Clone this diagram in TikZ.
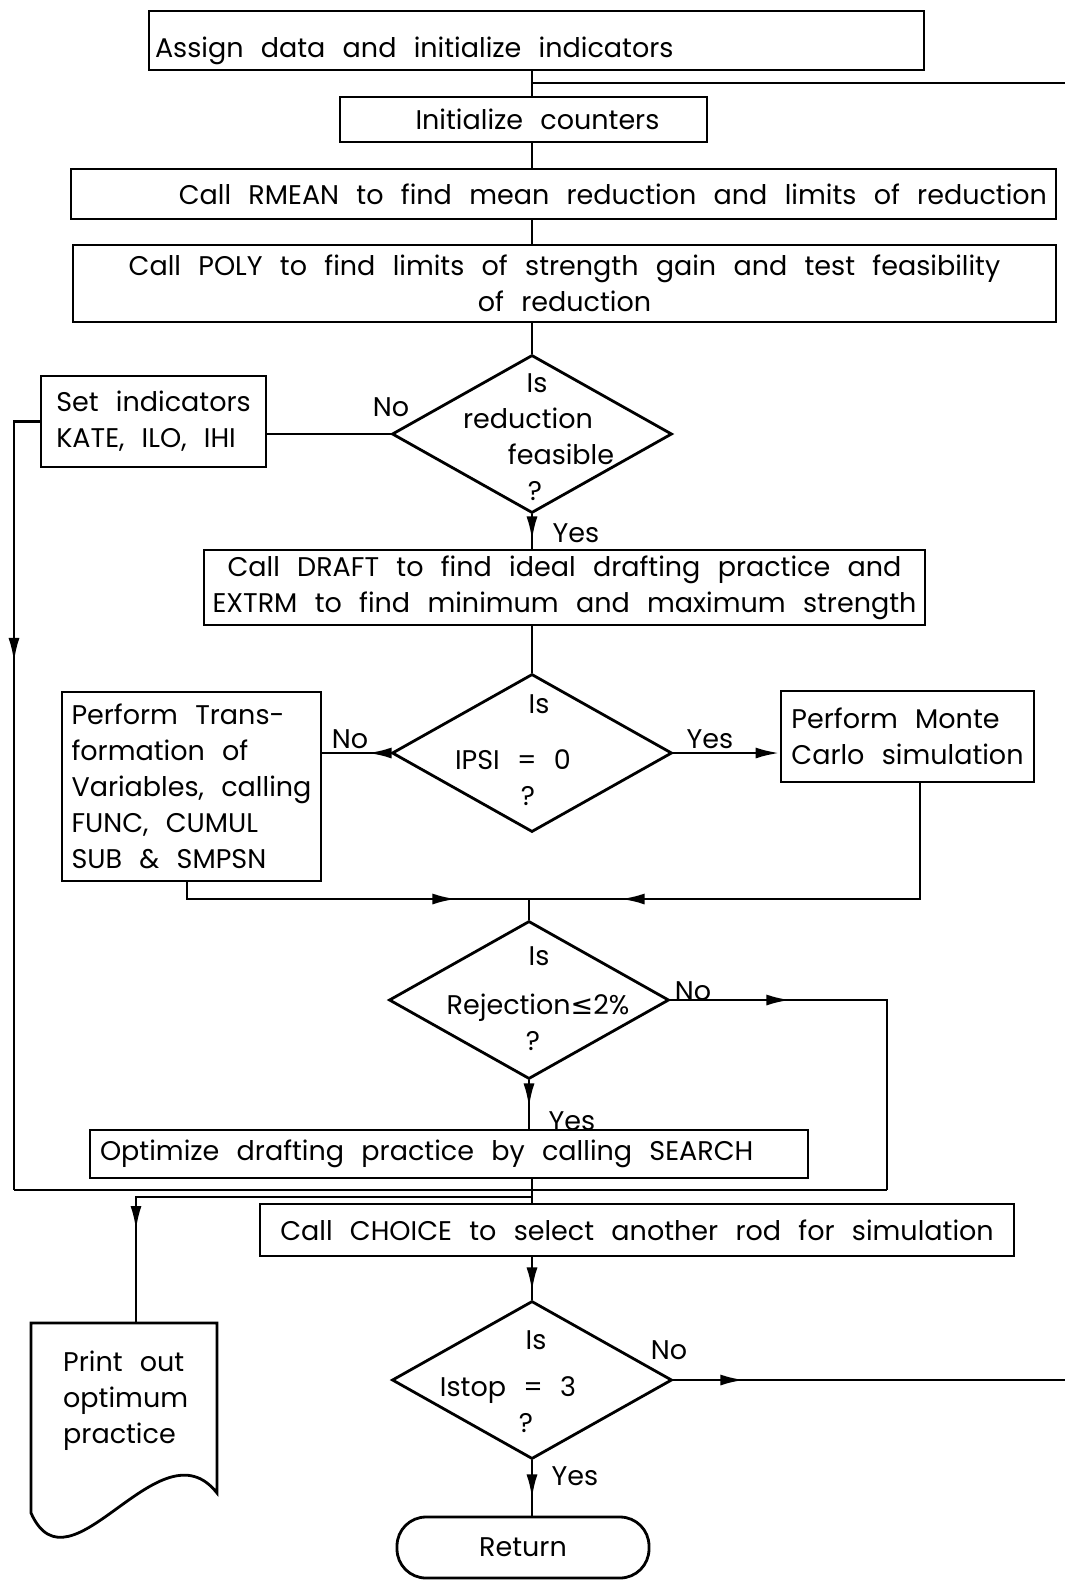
\documentclass[tikz,border=0pt]{standalone}
\usepackage{fontspec}
\setmainfont{Poppins}[WordSpace=2.4]
\newfontfamily\symfont{DejaVu Sans}
\usetikzlibrary{shapes.geometric,arrows.meta,decorations.markings,calc}
\newcommand{\fsp}{\spaceskip=0pt\xspaceskip=0pt\relax}
\begin{document}
\begin{tikzpicture}[x=1pt,y=-1pt,
  every node/.style={font=\fontsize{27}{36}\selectfont},
  base/.style={draw, line width=2.8pt, inner sep=0pt},
  box/.style={base, rectangle},
  dia/.style={base, diamond, minimum width=280pt, minimum height=158pt},
  dtext/.style={align=center, inner sep=0pt},
  lbl/.style={inner sep=0pt},
  conn/.style={line width=2.8pt},
  tipat/.style={postaction={decorate}, decoration={markings, mark=at position #1 with {\arrow{Latex[length=24pt,width=11pt]}}}},
  endtip/.style={-{Latex[length=24pt,width=11pt]}},
]
\useasboundingbox (0,0) rectangle (1065,1580);
\coordinate (col) at (532,0);

% boxes
\node[box, minimum width=775pt, minimum height=59pt, text width=763pt, text height=34pt, text depth=0pt, align=left] (b1) at (536.5,40.5) {\mbox{\fsp Assign data and initialize indicators}};
\node[box, minimum width=367pt, minimum height=45pt, align=center] (b2) at (523.5,119.5) {\hspace*{28pt}Initialize counters};
\node[box, minimum width=985pt, minimum height=50pt, text width=967pt, align=right] (b3) at (563.5,194) {\mbox{\fsp Call RMEAN to find mean reduction and limits of reduction}};
\node[box, minimum width=983pt, minimum height=77pt, align=center] (b4) at (564.5,283.5) {Call POLY to find limits of strength gain and test feasibility\\of reduction};
\node[dia] (d1) at (532,434) {};
\node[dtext] (d1t) at (535,437) {\hspace*{4pt}Is\\\hspace*{-14pt}reduction\\\hspace*{52pt}feasible\\?};
\node[box, minimum width=225pt, minimum height=91pt, align=left] (s1) at (153.5,421.5) {Set indicators\\KATE, ILO, IHI};
\node[box, minimum width=721pt, minimum height=75pt, align=center] (b5) at (564.5,587.5) {Call DRAFT to find ideal drafting practice and\\EXTRM to find minimum and maximum strength};
\node[dia] (d2) at (532,753) {};
\node[dtext] (d2t) at (528,750) {\hspace*{22pt}Is\\[20pt]\hspace*{-30pt}IPSI = 0\\?};
\node[box, minimum width=259pt, minimum height=189pt, align=left] (t1) at (191.5,786.5) {Perform Trans-\\formation of\\Variables, calling\\FUNC, CUMUL\\SUB \& SMPSN};
\node[box, minimum width=253pt, minimum height=91pt, align=left] (m1) at (907.5,736.5) {Perform Monte\\Carlo simulation};
\node[dia] (d3) at (529,1000) {};
\node[dtext] (d3t) at (533,999) {\hspace*{12pt}Is\\[13pt]\hspace*{10pt}Rejection{\symfont ≤}2\%\\?};
\node[box, minimum width=718pt, minimum height=48pt, text width=698pt, align=left] (opt) at (449,1154) {\mbox{\fsp Optimize drafting practice by calling SEARCH}};
\node[box, minimum width=754pt, minimum height=52pt, align=center] (c1) at (637,1230) {Call CHOICE to select another rod for simulation};
\node[dia] (d4) at (532,1380) {};
\node[dtext] (d4t) at (526,1382) {\hspace*{20pt}Is\\[11pt]\hspace*{-36pt}Istop = 3\\?};
\node[box, rounded corners=29pt, minimum width=252pt, minimum height=61pt] (ret) at (523,1547.5) {Return};
\node[lbl, align=left, anchor=west] (doc) at (63,1401) {Print out\\optimum\\practice};
\draw[conn] (31,1513) -- (31,1323) -- (217,1323) -- (217,1493) .. controls (160,1420) and (70,1600) .. (31,1513) -- cycle;

% labels
\node[lbl] (no1) at (391,407) {No};
\node[lbl] (yes1) at (576,533) {Yes};
\node[lbl] (no2) at (350,739) {No};
\node[lbl] (yes2) at (710,739) {Yes};
\node[lbl] (no3) at (693,991) {No};
\node[lbl] (yes3) at (572,1121) {Yes};
\node[lbl] (no4) at (669,1350) {No};
\node[lbl] (yes4) at (575,1476) {Yes};

% coordinates
\coordinate (j0) at (532,83);
\coordinate (topR) at (1065,83);
\coordinate (cL) at (14,1190);
\coordinate (cR) at (887,1190);
\coordinate (j1) at (529,899);
\coordinate (j2) at (532,1197);
\coordinate (doctop) at (136,1323);
\coordinate (botR) at (1065,1380);

% connectors
\draw[conn] (b1.south -| col) -- (b2.north -| col);
\draw[conn] (j0) -- (topR);
\draw[conn] (b2.south -| col) -- (b3.north -| col);
\draw[conn] (b3.south -| col) -- (b4.north -| col);
\draw[conn] (b4.south -| col) -- (d1.north);
\draw[conn] (d1.west) -- (d1.west -| s1.east);
\draw[conn, tipat=266pt] (s1.west) -| (cL);
\draw[conn] (cL) -- (cR);
\draw[conn, tipat=120pt] (d3.east) -| (cR);
\draw[conn, tipat=26pt] (d1.south) -- (d1.south |- b5.north);
\draw[conn] (b5.south -| col) -- (d2.north);
\draw[conn, tipat=23pt] (d2.west) -- (d2.west -| t1.east);
\draw[conn, endtip] (d2.east) -- (d2.east -| m1.west);
\draw[conn, tipat=286pt] ([xshift=-4.5pt]t1.south) |- (j1);
\draw[conn, tipat=415pt] ([xshift=12.5pt]m1.south) |- (j1);
\draw[conn] (j1) -- (d3.north);
\draw[conn, tipat=27pt] (d3.south) -- (d3.south |- opt.north);
\draw[conn] (opt.south -| col) -- (c1.north -| col);
\draw[conn, tipat=429pt] (j2) -| (doctop);
\draw[conn, tipat=34pt] (c1.south -| col) -- (d4.north);
\draw[conn, tipat=71pt] (d4.east) -- (botR);
\draw[conn, tipat=38pt] (d4.south) -- (d4.south |- ret.north);
\end{tikzpicture}
\end{document}
